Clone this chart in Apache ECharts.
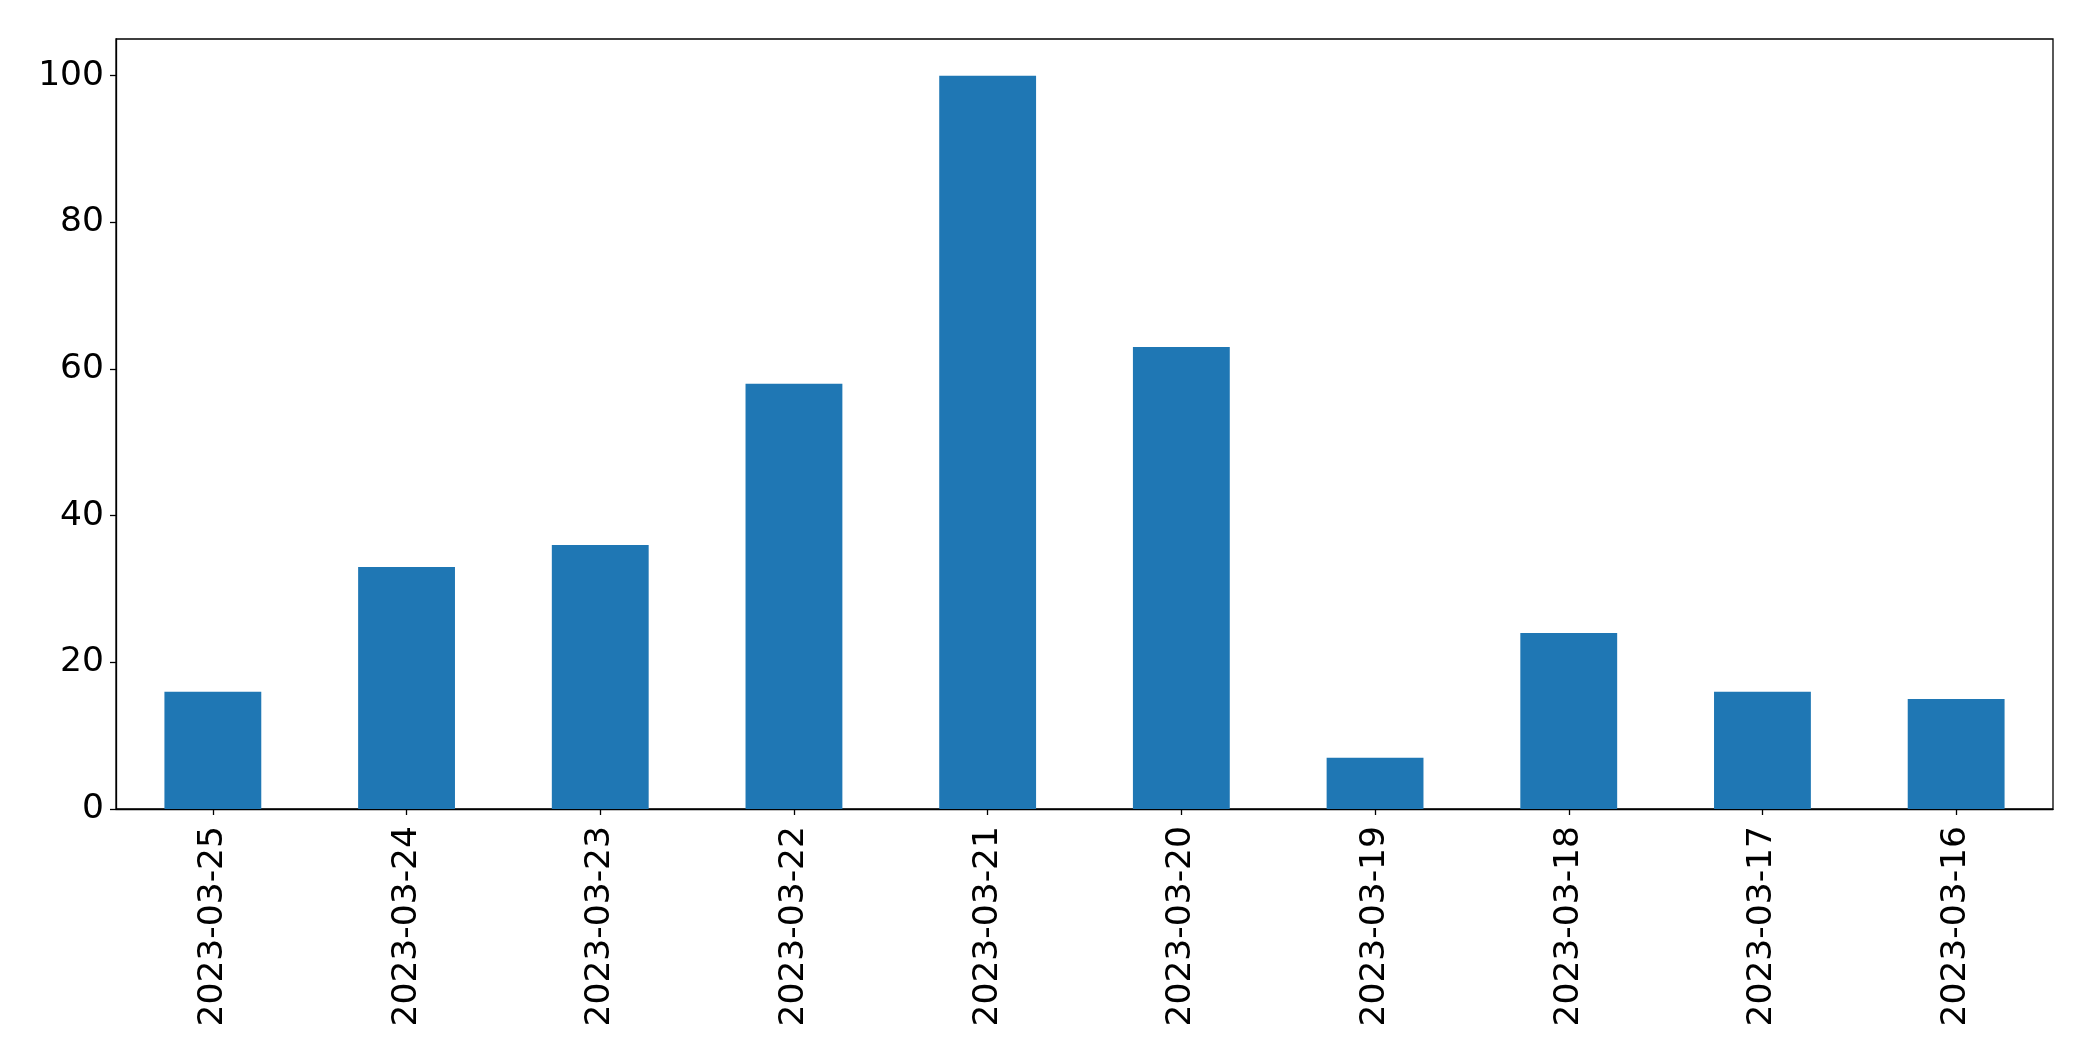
<!DOCTYPE html>
<html>
<head>
<meta charset="utf-8">
<script src="https://cdn.jsdelivr.net/npm/echarts@6/dist/echarts.min.js"></script>
<style>
  html, body { margin: 0; padding: 0; background: #fff; }
  #chart { width: 2093px; height: 1061px; }
</style>
</head>
<body>
<div id="chart"></div>
<script>
var dates = ['2023-03-25', '2023-03-24', '2023-03-23', '2023-03-22', '2023-03-21',
             '2023-03-20', '2023-03-19', '2023-03-18', '2023-03-17', '2023-03-16'];
var counts = [16, 33, 36, 58, 100, 63, 7, 24, 16, 15];
var yTicks = [0, 20, 40, 60, 80, 100];

var chart = echarts.init(document.getElementById('chart'));
var font = 'DejaVu Sans';

var option = {
    animation: false,
    backgroundColor: '#fff',
    grid: {
        left: 116,
        right: 40,
        top: 39,
        bottom: 252,
        show: true,
        borderColor: '#000',
        borderWidth: 1.3,
        backgroundColor: 'transparent'
    },
    xAxis: {
        type: 'category',
        data: dates,
        boundaryGap: true,
        axisLine: { show: true, lineStyle: { color: '#000', width: 1.3 } },
        axisTick: { show: true, alignWithLabel: true, length: 6, lineStyle: { color: '#000', width: 1.3 } },
        axisLabel: {
            rotate: 90,
            interval: 0,
            margin: 17,
            color: '#000',
            fontFamily: font,
            fontSize: 34.5
        },
        splitLine: { show: false }
    },
    yAxis: {
        type: 'value',
        min: 0,
        max: 105,
        interval: 20,
        axisLine: { show: true, lineStyle: { color: '#000', width: 1.3 } },
        axisTick: { show: true, length: 6, customValues: yTicks, lineStyle: { color: '#000', width: 1.3 } },
        axisLabel: {
            customValues: yTicks,
            margin: 12,
            padding: [6, 0, 0, 0],
            backgroundColor: 'rgba(255,255,255,0)',
            color: '#000',
            fontFamily: font,
            fontSize: 34.5
        },
        splitLine: { show: false }
    },
    series: [{
        type: 'bar',
        data: counts,
        barWidth: '50%',
        itemStyle: { color: '#1f77b4' }
    }]
};

chart.setOption(option);
</script>
</body>
</html>
